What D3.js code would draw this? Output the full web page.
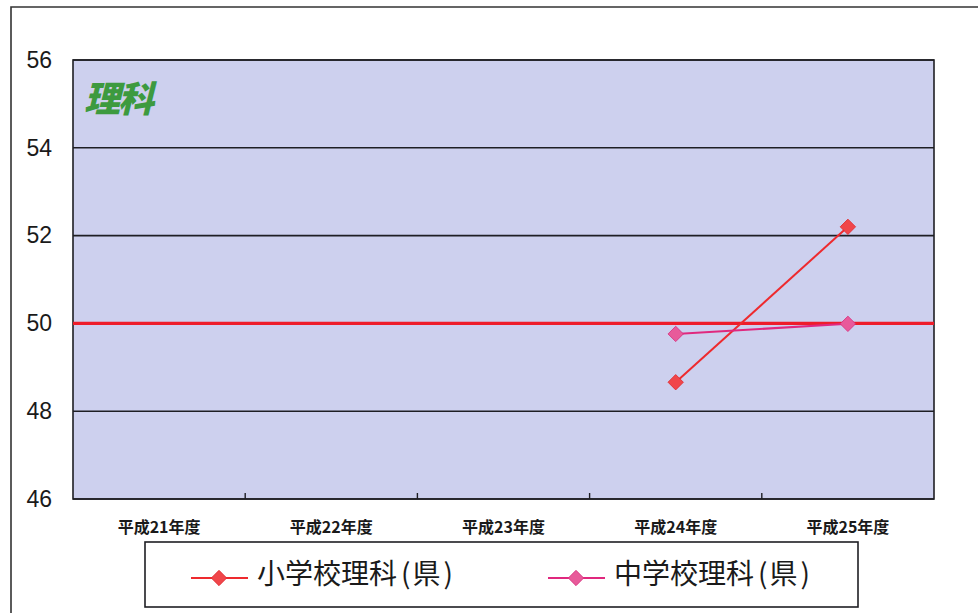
<!DOCTYPE html>
<html>
<head>
<meta charset="utf-8">
<script src="https://cdn.jsdelivr.net/npm/d3@7"></script>
<style>
  html, body { margin: 0; padding: 0; background: #ffffff; }
  svg { display: block; }
</style>
</head>
<body>
<svg id="chart" width="978" height="613"></svg>
<script>
// School years (categories)
const years = ["平成21年度", "平成22年度", "平成23年度", "平成24年度", "平成25年度"];
// Prefecture science scores (standardised, national = 50)
const elementary = [null, null, null, 48.66, 52.2];
const juniorHigh = [null, null, null, 49.76, 49.99];
const nationalLevel = 50;
const yTicks = [46, 48, 50, 52, 54, 56];
const seriesNames = ["小学校理科", "中学校理科"];
const seriesSuffix = ["(", "県", ")"];

const svg = d3.select("#chart");
const plot = { left: 73, right: 934, top: 60, bottom: 499 };

const x = d3.scaleBand().domain(years).range([plot.left, plot.right]).padding(0);
const y = d3.scaleLinear().domain([46, 56]).range([plot.bottom, plot.top]);

// Outer frame (top and left edges)
svg.append("path")
  .attr("d", `M11,613 L11,7 L978,7`)
  .attr("fill", "none").attr("stroke", "#333").attr("stroke-width", 1.6);

// Plot background
svg.append("rect")
  .attr("x", plot.left).attr("y", plot.top)
  .attr("width", plot.right - plot.left).attr("height", plot.bottom - plot.top)
  .attr("fill", "#cdd0ee");

// Horizontal gridlines
svg.append("g").selectAll("line").data(yTicks).join("line")
  .attr("x1", plot.left).attr("x2", plot.right)
  .attr("y1", d => y(d)).attr("y2", d => y(d))
  .attr("stroke", "#1e1e24").attr("stroke-width", 1.6);

// Plot border
svg.append("rect")
  .attr("x", plot.left).attr("y", plot.top)
  .attr("width", plot.right - plot.left).attr("height", plot.bottom - plot.top)
  .attr("fill", "none").attr("stroke", "#1e1e24").attr("stroke-width", 1.6);

// Y axis labels
const yAxis = d3.axisLeft(y).tickValues(yTicks).tickSize(0).tickPadding(21).tickFormat(d3.format("d"));
const gy = svg.append("g").attr("transform", `translate(${plot.left},0)`).call(yAxis);
gy.select(".domain").remove();
gy.selectAll("text")
  .attr("font-family", "'Liberation Sans', Arial, sans-serif")
  .attr("font-size", 23).attr("fill", "#1a1a1a");

// X axis: category boundary ticks pointing into the plot, labels below
const boundaries = years.map(d => x(d)).slice(1);
svg.append("g").selectAll("line").data(boundaries).join("line")
  .attr("x1", d => d).attr("x2", d => d)
  .attr("y1", plot.bottom).attr("y2", plot.bottom - 6)
  .attr("stroke", "#1e1e24").attr("stroke-width", 1.4);

svg.append("g").selectAll("text").data(years).join("text")
  .attr("x", d => x(d) + x.bandwidth() / 2)
  .attr("y", 533)
  .attr("text-anchor", "middle")
  .attr("font-family", "'Noto Sans CJK JP', sans-serif")
  .attr("font-weight", 700)
  .attr("font-size", 16)
  .attr("fill", "#1a1a1a")
  .text(d => d);

// National level reference line at 50
svg.append("line")
  .attr("x1", plot.left).attr("x2", plot.right)
  .attr("y1", y(nationalLevel)).attr("y2", y(nationalLevel))
  .attr("stroke", "#ee1c2a").attr("stroke-width", 3.2);

// Subject title
svg.append("text")
  .attr("x", 84).attr("y", 112)
  .attr("font-family", "'Noto Sans CJK JP', sans-serif")
  .attr("font-weight", 900)
  .attr("font-size", 36)
  .attr("font-style", "italic")
  .attr("fill", "#3d9a3f")
  .attr("letter-spacing", -2)
  .text("理科");

const series = [
  { name: seriesNames[0], values: elementary, line: "#ee2a2e", fill: "#f0464a", stroke: "#e02a30" },
  { name: seriesNames[1], values: juniorHigh, line: "#e0287e", fill: "#e85a9a", stroke: "#d8307e" }
];

const cx = i => x(years[i]) + x.bandwidth() / 2;
const diamond = d3.symbol().type(d3.symbolSquare).size(118);

series.forEach(s => {
  const pts = s.values.map((v, i) => ({ v, i })).filter(p => p.v !== null);
  svg.append("path")
    .datum(pts)
    .attr("fill", "none")
    .attr("stroke", s.line)
    .attr("stroke-width", 2)
    .attr("d", d3.line().x(p => cx(p.i)).y(p => y(p.v)));
  svg.append("g").selectAll("path").data(pts).join("path")
    .attr("d", diamond)
    .attr("transform", p => `translate(${cx(p.i)},${y(p.v)}) rotate(45)`)
    .attr("fill", s.fill).attr("stroke", s.stroke).attr("stroke-width", 0.8);
});

// Legend
const legend = svg.append("g");
legend.append("rect")
  .attr("x", 145).attr("y", 542).attr("width", 713).attr("height", 65)
  .attr("fill", "#ffffff").attr("stroke", "#1e1e24").attr("stroke-width", 1.6);

const legendX = [191, 548];
series.forEach((s, k) => {
  const lx = legendX[k], ly = 578;
  legend.append("line")
    .attr("x1", lx).attr("x2", lx + 57).attr("y1", ly).attr("y2", ly)
    .attr("stroke", s.line).attr("stroke-width", 2);
  legend.append("path")
    .attr("d", diamond)
    .attr("transform", `translate(${lx + 28},${ly}) rotate(45)`)
    .attr("fill", s.fill).attr("stroke", s.stroke).attr("stroke-width", 0.8);
  const t = legend.append("text")
    .attr("x", lx + 66).attr("y", ly + 6)
    .attr("font-family", "'Noto Sans CJK JP', sans-serif")
    .attr("font-size", 28)
    .attr("fill", "#1a1a1a");
  t.append("tspan").text(s.name);
  t.append("tspan").attr("dx", 4).text(seriesSuffix[0]);
  t.append("tspan").attr("dx", 2).text(seriesSuffix[1]);
  t.append("tspan").attr("dx", 3).text(seriesSuffix[2]);
});
</script>
</body>
</html>
